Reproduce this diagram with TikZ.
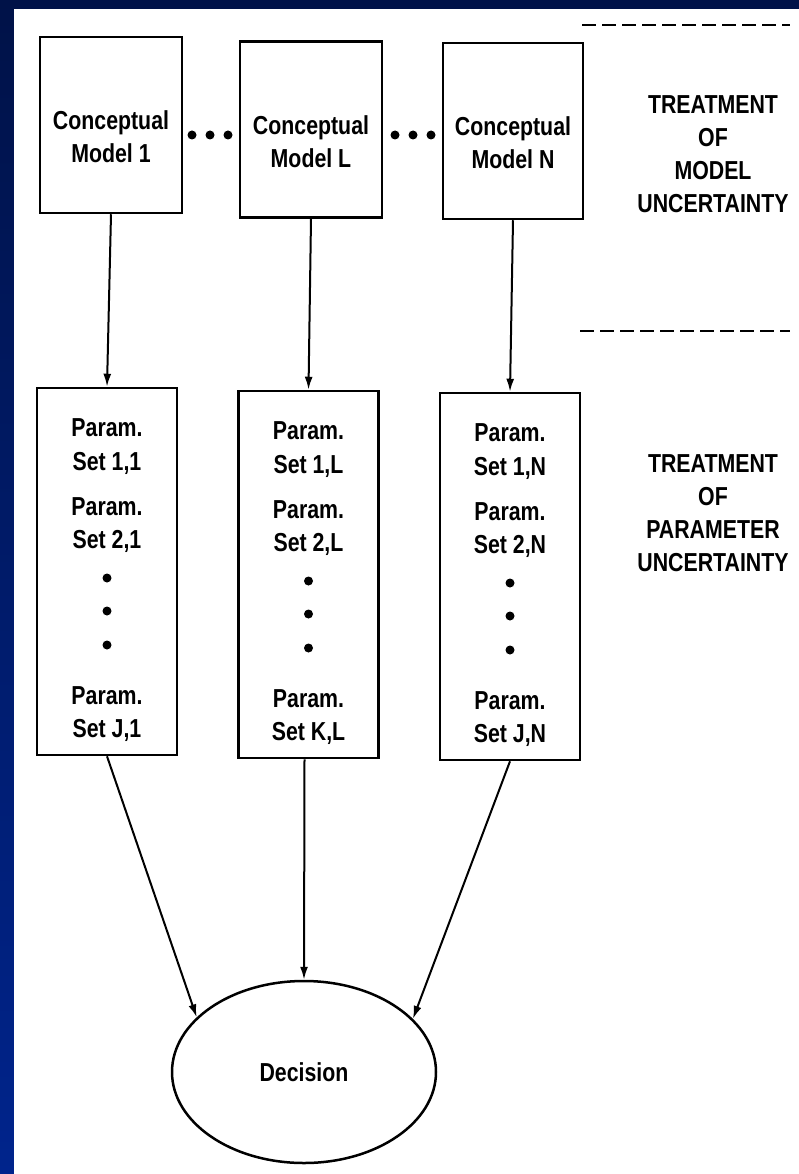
\documentclass[tikz,border=0pt]{standalone}
\usepackage{fontspec}
\setmainfont[FakeStretch=0.82]{Liberation Sans}
\usetikzlibrary{shapes.geometric,arrows.meta}
\definecolor{navytop}{RGB}{0,18,72}
\definecolor{navybot}{RGB}{0,36,140}

\begin{document}
\begin{tikzpicture}[x=1pt,y=-1pt,line width=2.5pt,
  every node/.style={font=\fontsize{26}{33}\selectfont\bfseries},
  cbox/.style={draw,rectangle,minimum width=142pt,minimum height=176pt,inner sep=0pt},
  pbox/.style={draw,rectangle,minimum width=140pt,minimum height=367pt,inner sep=0pt},
  txt/.style={align=center,inner sep=0pt},
  ln/.style={anchor=base,inner sep=0pt},
  arr/.style={line width=2pt,-{Latex[length=13pt,width=8pt]}},
  sep/.style={dash pattern=on 14pt off 6pt,line width=2.5pt}]
\useasboundingbox (0,0) rectangle (799,1174);
\shade[top color=navytop,bottom color=navybot] (0,0) rectangle (799,1174);
\fill[white] (14,9) rectangle (799,1174);

\node[cbox] (cm1) at (111,125) {};
\node[cbox] (cmL) at (311,129.5) {};
\node[cbox,minimum width=140pt] (cmN) at (513,131) {};
\node[txt] (cm1-t) at ([yshift=-12pt]cm1.center) {Conceptual\\Model 1};
\node[txt] (cmL-t) at ([yshift=-12pt]cmL.center) {Conceptual\\Model L};
\node[txt] (cmN-t) at ([yshift=-12pt]cmN.center) {Conceptual\\Model N};
\foreach \x in {192,210,228,395,413,431}
  \fill (\x,135) circle (4.5pt);

\foreach \c/\n/\px/\ty in {1/J/107/388, L/K/308.5/391, N/J/510/393}{
  \node[pbox] (ps\c) at (\px,\ty+183.5) {};
  \node[ln] (ps\c-a) at (\px,\ty+48) {Param.};
  \node[ln] (ps\c-b) at (\px,\ty+82) {Set 1,\c};
  \node[ln] (ps\c-c) at (\px,\ty+127) {Param.};
  \node[ln] (ps\c-d) at (\px,\ty+160) {Set 2,\c};
  \foreach \d in {190,223,257}
    \fill (\px,\ty+\d) circle (4.5pt);
  \node[ln] (ps\c-e) at (\px,\ty+316) {Param.};
  \node[ln] (ps\c-f) at (\px,\ty+349) {Set \n,\c};
}

\node[draw,ellipse,minimum width=264pt,minimum height=182pt,inner sep=0pt] (dec) at (304,1072) {Decision};

\draw[arr] (cm1.south) -- (ps1.north);
\draw[arr] (cmL.south) -- (psL.north);
\draw[arr] (cmN.south) -- (psN.north);
\draw[arr] (ps1.south) -- (dec.153);
\draw[arr] ([xshift=-4pt]psL.south) -- (dec.north);
\draw[arr] (psN.south) -- (dec.26);

\node[txt] (mu) at (713,154.5) {TREATMENT\\OF\\MODEL\\UNCERTAINTY};
\node[txt] (pu) at (713,513.5) {TREATMENT\\OF\\PARAMETER\\UNCERTAINTY};
\draw[sep] (582,25) -- (790,25);
\draw[sep] (580,331) -- (790,331);
\end{tikzpicture}
\end{document}
